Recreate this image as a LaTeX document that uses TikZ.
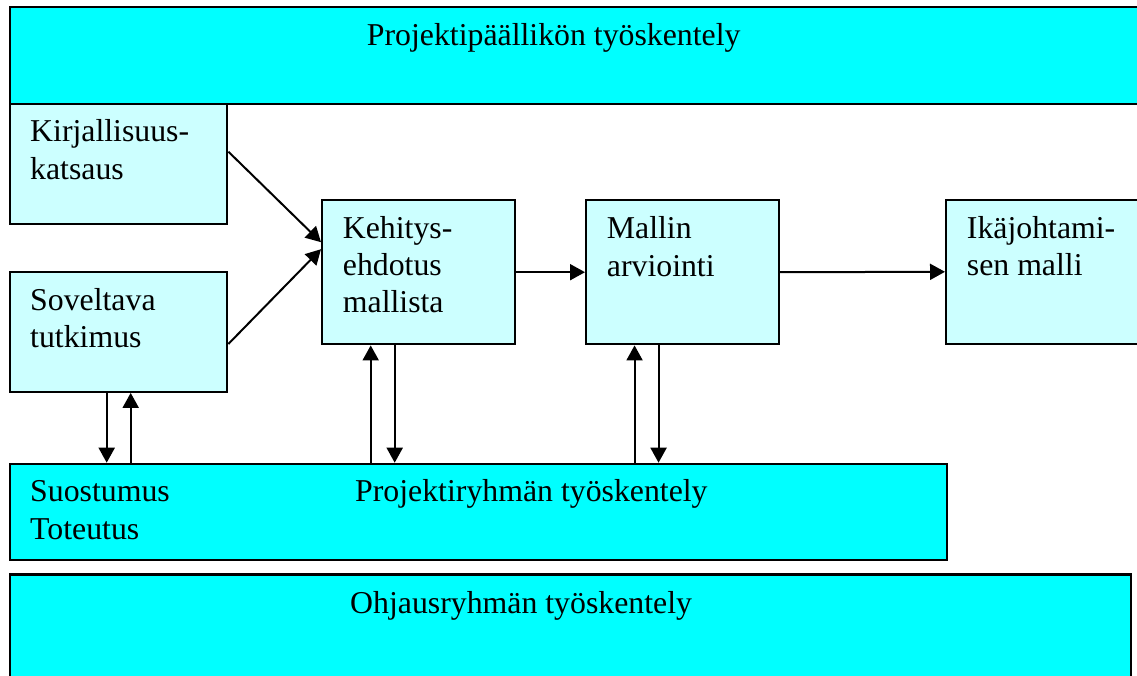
\documentclass[tikz,border=0pt]{standalone}
\usepackage{fontspec}
\setmainfont{Liberation Serif}
\usetikzlibrary{arrows.meta}
\definecolor{bandcyan}{RGB}{0,255,255}
\definecolor{palecyan}{RGB}{204,255,255}
\begin{document}
\begin{tikzpicture}[x=1pt,y=-1pt,
  band/.style={draw=black,line width=2.4pt,fill=bandcyan,rectangle,inner sep=0pt,anchor=north west},
  stagebox/.style={draw=black,line width=2.4pt,fill=palecyan,rectangle,inner sep=0pt,anchor=north west},
  txt/.style={anchor=base west,inner sep=0pt,font=\fontsize{31.8}{36}\selectfont},
  arr/.style={line width=2pt,-{Triangle[length=15pt,width=16pt]}}]
\useasboundingbox (0,0) rectangle (1137,675);
\clip (0,0) rectangle (1137,675);
% lanes
\node[band,minimum width=1128pt,minimum height=96.5pt] (top) at (9,6) {};
\node[band,minimum width=936.7pt,minimum height=96pt] (proj) at (9,462.7) {};
\node[band,minimum width=1121pt,minimum height=120pt] (ohj) at (9,573.3) {};
% stages
\node[stagebox,minimum width=217pt,minimum height=120pt] (kirj) at (9,102.5) {};
\node[stagebox,minimum width=217pt,minimum height=119.5pt] (sov) at (9,271) {};
\node[stagebox,minimum width=193pt,minimum height=144pt] (keh) at (321,199) {};
\node[stagebox,minimum width=192.7pt,minimum height=144pt] (mal) at (585,199) {};
\node[stagebox,minimum width=192pt,minimum height=144.2pt] (ika) at (945,198.5) {};
% texts
\node[txt] (ttop) at (366.7,45) {Projektipäällikön työskentely};
\node[txt] (tkirj1) at (30,141.7) {Kirjallisuus-};
\node[txt] (tkirj2) at (30,179) {katsaus};
\node[txt] (tsov1) at (30,310) {Soveltava};
\node[txt] (tsov2) at (30,347) {tutkimus};
\node[txt] (tkeh1) at (342.7,238) {Kehitys-};
\node[txt] (tkeh2) at (342.7,275) {ehdotus};
\node[txt] (tkeh3) at (342.7,312.7) {mallista};
\node[txt] (tmal1) at (606.7,238) {Mallin};
\node[txt] (tmal2) at (606.7,276) {arviointi};
\node[txt] (tika1) at (966.7,238.3) {Ikäjohtami-};
\node[txt] (tika2) at (966.7,275) {sen malli};
\node[txt] (tproj1) at (30,501.7) {Suostumus};
\node[txt] (tproj2) at (30,539.3) {Toteutus};
\node[txt] (tproj3) at (355,501.7) {Projektiryhmän työskentely};
\node[txt] (tohj) at (350,613.3) {Ohjausryhmän työskentely};
% flow
\draw[arr] ([yshift=12pt]kirj.east) -- ([yshift=30pt]keh.west);
\draw[arr] ([yshift=-12pt]sov.east) -- ([yshift=23pt]keh.west);
\draw[arr] (keh.east) -- (mal.west);
\draw[arr] (mal.east) -- (ika.west);
% exchanges with the project group
\draw[arr] ([xshift=-12pt]sov.south) -- ([xshift=-12pt]sov.south |- proj.north);
\draw[arr] ([xshift=12pt]sov.south |- proj.north) -- ([xshift=12pt]sov.south);
\draw[arr] ([xshift=-48pt]keh.south |- proj.north) -- ([xshift=-48pt]keh.south);
\draw[arr] ([xshift=-24pt]keh.south) -- ([xshift=-24pt]keh.south |- proj.north);
\draw[arr] ([xshift=-48pt]mal.south |- proj.north) -- ([xshift=-48pt]mal.south);
\draw[arr] ([xshift=-24pt]mal.south) -- ([xshift=-24pt]mal.south |- proj.north);
\end{tikzpicture}
\end{document}
